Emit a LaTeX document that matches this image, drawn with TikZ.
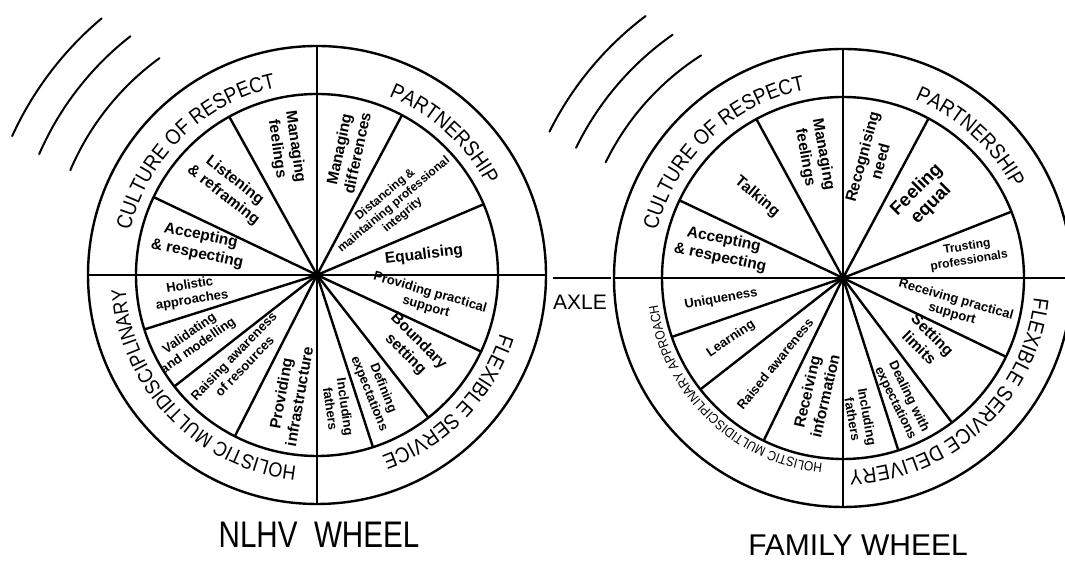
\documentclass[tikz,border=0pt]{standalone}
\usepackage{fontspec}
\setmainfont{Liberation Sans}
\newfontfamily\wheelfont{Liberation Sans Bold}
\newfontfamily\ringface[FakeStretch=0.88]{Liberation Sans}
\newfontfamily\titlefont[FakeStretch=0.8]{Liberation Sans}
\usetikzlibrary{decorations.text}
\newcommand\ringfont{\ringface\fontsize{21.5}{21.5}\selectfont}
\newcommand\ringsmall{\ringface\fontsize{13.5}{13.5}\selectfont}
\tikzset{
    % Circles, spokes and cross lines of a wheel
    rim/.style={line width=2.4pt, draw=black},
    % Motion lines behind the wheels
    wave/.style={line width=2pt, line cap=round},
    % Labels inside the sectors
    sector/.style={font=\wheelfont\fontsize{15.5}{18.5}\selectfont, align=center, inner sep=0pt},
    sector small/.style={sector, font=\wheelfont\fontsize{13}{15}\selectfont},
    % Curved labels in the outer ring
    ring label/.style={decorate, decoration={text along path, text align=center, text={#1}}},
    % Captions under the wheels
    caption/.style={inner sep=0pt},
}

\begin{document}
\begin{tikzpicture}[x=1pt, y=1pt]
    \useasboundingbox (0,0) rectangle (1065,561);
    \clip (0,0) rectangle (1065,561);

    % NLHV wheel
    \begin{scope}[shift={(317,286)}]
        \draw[wave] (157:268pt) arc[start angle=157, end angle=126, radius=268pt];
        \draw[wave] (156.5:303pt) arc[start angle=156.5, end angle=128, radius=303pt];
        \draw[wave] (155.5:335pt) arc[start angle=155.5, end angle=130, radius=335pt];
        \draw[rim] (0,0) circle[radius=229pt];
        \draw[rim] (0,0) circle[radius=181pt];
        \draw[rim] (-229,0) -- (229,0);
        \draw[rim] (0,-229) -- (0,229);
        \foreach \a in {23,62,119,154.5,197.5,218,243,-25,-52,-72}
            \draw[rim] (0,0) -- (\a:181pt);
        \fill (0,0) circle[radius=4.5pt];

        \path[ring label={|\ringfont|CULTURE OF RESPECT}] (179:192pt) arc[start angle=179, end angle=90, radius=192pt];
        \path[ring label={|\ringfont|PARTNERSHIP}] (93:192pt) arc[start angle=93, end angle=3, radius=192pt];
        \path[ring label={|\ringfont|FLEXIBLE SERVICE}] (1:192pt) arc[start angle=1, end angle=-89, radius=192pt];
        \path[ring label={|\ringface\fontsize{20.5}{20.5}\selectfont|HOLISTIC MULTIDISCIPLINARY}] (269:192pt) arc[start angle=269, end angle=179, radius=192pt];

        \node (lfeel) [sector, rotate=-82] at (-31,127) {Managing\\feelings};
        \node (llisten) [sector, rotate=-38] at (-88,87) {Listening\\\& reframing};
        \node (laccept) [sector, rotate=-12] at (-118,30) {Accepting\\\& respecting};
        \node (ldiff) [sector, rotate=78] at (31,124) {Managing\\differences};
        \node (ldist) [sector, rotate=40, font=\wheelfont\fontsize{12}{13.5}\selectfont] at (77,70) {Distancing \&\\maintaining professional\\integrity};
        \node (lequal) [sector, rotate=7] at (107,20) {Equalising};
        \node (lsupport) [sector small, rotate=-16] at (111,-25) {Providing practical\\support};
        \node (lbound) [sector, rotate=-45] at (95,-73) {Boundary\\setting};
        \node (ldefine) [sector small, rotate=-68] at (59,-116) {Defining\\expectations};
        \node (lfathers) [sector small, rotate=-82] at (21,-133) {Including\\fathers};
        \node (lholistic) [sector small, rotate=9] at (-126,-18) {Holistic\\approaches};
        \node (lvalid) [sector small, rotate=35] at (-123,-65) {Validating\\and modelling};
        \node (lraise) [sector small, rotate=46] at (-78,-86) {Raising awareness\\of resources};
        \node (linfra) [sector, rotate=80] at (-27,-120) {Providing\\infrastructure};
    \end{scope}

    % the axle between the wheels
    \draw[rim] (553,283) -- (611,283);
    \node (axle) [caption, font=\fontsize{21}{21}\selectfont] at (580,259) {AXLE};

    % Family wheel
    \begin{scope}[shift={(843,283)}]
        \draw[wave] (154:264pt) arc[start angle=154, end angle=122.5, radius=264pt];
        \draw[wave] (154:297pt) arc[start angle=154, end angle=125, radius=297pt];
        \draw[wave] (153.5:328pt) arc[start angle=153.5, end angle=127, radius=328pt];
        \draw[rim] (0,0) circle[radius=229pt];
        \draw[rim] (0,0) circle[radius=181pt];
        \draw[rim] (-229,0) -- (240,0);
        \draw[rim] (0,-229) -- (0,229);
        \foreach \a in {21.5,61.8,118.6,154.6,199,218,244,-25.8,-53,-72.2}
            \draw[rim] (0,0) -- (\a:181pt);
        \fill (0,0) circle[radius=4.5pt];

        \path[ring label={|\ringfont|CULTURE OF RESPECT}] (178:192pt) arc[start angle=178, end angle=89, radius=192pt];
        \path[ring label={|\ringfont|PARTNERSHIP}] (93:192pt) arc[start angle=93, end angle=3, radius=192pt];
        \path[ring label={|\ringfont|FLEXIBLE SERVICE DELIVERY}] (0:192pt) arc[start angle=0, end angle=-94, radius=192pt];
        \path[ring label={|\ringsmall|HOLISTIC MULTIDISCIPLINARY APPROACH}] (271:187pt) arc[start angle=271, end angle=181, radius=187pt];

        \node (rfeel) [sector, rotate=-80] at (-29,122) {Managing\\feelings};
        \node (rtalk) [sector, rotate=-40] at (-86,81) {Talking};
        \node (raccept) [sector, rotate=-12] at (-121,29) {Accepting\\\& respecting};
        \node (rneed) [sector, rotate=75] at (28,119) {Recognising\\need};
        \node (requal) [sector, rotate=45, font=\wheelfont\fontsize{18.5}{20.5}\selectfont] at (81,81) {Feeling\\equal};
        \node (rtrust) [sector, rotate=9, font=\wheelfont\fontsize{12}{14}\selectfont] at (125,24) {Trusting\\professionals};
        \node (rsupport) [sector small, rotate=-16] at (111,-29) {Receiving practical\\support};
        \node (rlimits) [sector, rotate=-45] at (83,-63) {Setting\\limits};
        \node (rdeal) [sector small, rotate=-64] at (59,-122) {Dealing with\\expectations};
        \node (rfathers) [sector small, rotate=-80] at (17,-140) {Including\\fathers};
        \node (runique) [sector small, rotate=10] at (-122,-21) {Uniqueness};
        \node (rlearn) [sector small, rotate=34] at (-112,-61) {Learning};
        \node (rraised) [sector small, rotate=51] at (-68,-86) {Raised awareness};
        \node (rinfo) [sector, rotate=77] at (-27,-116) {Receiving\\information};
    \end{scope}

    \node (nlhv) [caption, font=\titlefont\fontsize{37}{37}\selectfont] at (319,26) {NLHV\ \ WHEEL};
    \node (family) [caption, font=\fontsize{30}{30}\selectfont] at (858,16) {FAMILY WHEEL};
\end{tikzpicture}
\end{document}
